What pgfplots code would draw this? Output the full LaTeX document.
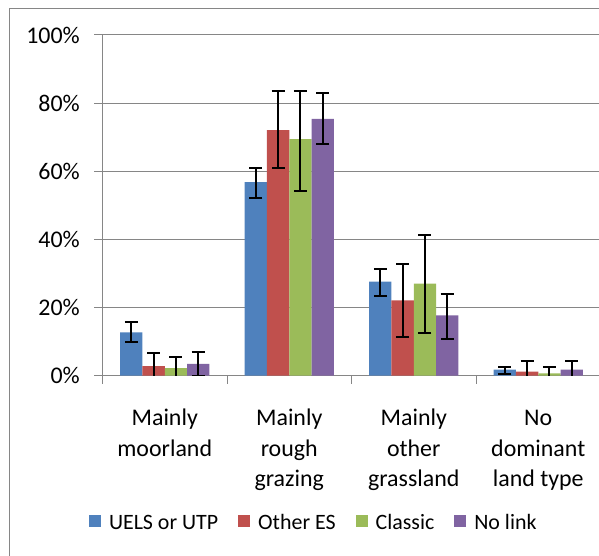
\documentclass[border=0pt]{standalone}
\usepackage{fontspec}
\setmainfont{Carlito}
\usepackage{pgfplots}
\usepackage{pgfplotstable}
\pgfplotsset{compat=1.18}
\definecolor{cA}{HTML}{4F81BD}
\definecolor{cB}{HTML}{C0504D}
\definecolor{cC}{HTML}{9BBB59}
\definecolor{cD}{HTML}{8064A2}
\definecolor{axgray}{HTML}{868686}
\pgfplotstableread{
x y ep em
1 12.7 3.1 2.9
2 56.8 4.3 4.7
3 27.6 3.6 4.2
4 1.8 0.8 1.3
}\uels
\pgfplotstableread{
x y ep em
1 2.8 3.9 3.9
2 72.1 11.4 11.2
3 22.1 10.8 10.7
4 1.2 3.0 3.0
}\other
\pgfplotstableread{
x y ep em
1 2.2 3.2 3.2
2 69.4 14.1 15.2
3 27.0 14.2 14.5
4 0.7 1.9 1.9
}\classic
\pgfplotstableread{
x y ep em
1 3.5 3.5 3.5
2 75.4 7.5 7.4
3 17.7 6.4 6.8
4 1.8 2.4 2.4
}\nolink
\begin{document}
\begin{tikzpicture}[x=1bp,y=1bp]
\useasboundingbox (0,0) rectangle (599,556);
\draw[axgray, line width=1bp] (9,-5) -- (9,547.5) -- (610,547.5);
\begin{axis}[
  at={(102.5bp,180.3bp)}, anchor=south west,
  scale only axis, width=498bp, height=340.7bp,
  xmin=0.5, xmax=4.5, ymin=0, ymax=100,
  axis lines*=left,
  axis line style={-, axgray, line width=1bp},
  tick align=outside,
  major tick length=8bp,
  tick style={axgray, line width=1bp},
  ytick={0,20,40,60,80,100},
  yticklabels={0\%,20\%,40\%,60\%,80\%,100\%},
  yticklabel style={font=\fontsize{24}{28}\selectfont, inner sep=0pt, anchor=east, xshift=-14.5bp},
  ymajorgrids,
  grid style={axgray, line width=1bp},
  xtick={0.5,1.5,2.5,3.5,4.5},
  xticklabels={},
  extra x ticks={1,2,3,4},
  extra x tick labels={{\rule{0pt}{17bp}Mainly\\moorland},{\rule{0pt}{17bp}Mainly\\rough\\grazing},{\rule{0pt}{17bp}Mainly\\other\\grassland},{\rule{0pt}{17bp}No\\dominant\\land type}},
  extra x tick style={major tick length=0pt, grid=none,
    tick label style={font=\fontsize{24}{30.5}\selectfont, align=center, anchor=north, inner sep=0pt, yshift=-33bp}},
  ybar=0pt, bar width=0.179,
  error bars/y dir=both, error bars/y explicit,
  error bars/error bar style={black, line width=2bp},
  error bars/error mark options={black, line width=2bp, mark size=6.5bp, rotate=90},
  legend columns=4,
  legend image code/.code={\fill[#1] (0bp,-4bp) rectangle (12bp,8bp);},
  legend style={at={(axis description cs:-0.0275,-0.432)}, anchor=west, draw=none, fill=none,
    inner sep=0pt, font=\fontsize{22}{26}\selectfont,
    nodes={inner sep=0pt},
    /tikz/every odd column/.append style={column sep=8bp},
    /tikz/every even column/.append style={column sep=20bp}},
]
\addplot[fill=cA, draw=none] table[x=x, y=y, y error plus=ep, y error minus=em] {\uels};
\addplot[fill=cB, draw=none] table[x=x, y=y, y error plus=ep, y error minus=em] {\other};
\addplot[fill=cC, draw=none] table[x=x, y=y, y error plus=ep, y error minus=em] {\classic};
\addplot[fill=cD, draw=none] table[x=x, y=y, y error plus=ep, y error minus=em] {\nolink};
\legend{UELS or UTP,Other ES,Classic,No link}
\end{axis}
\end{tikzpicture}
\end{document}
